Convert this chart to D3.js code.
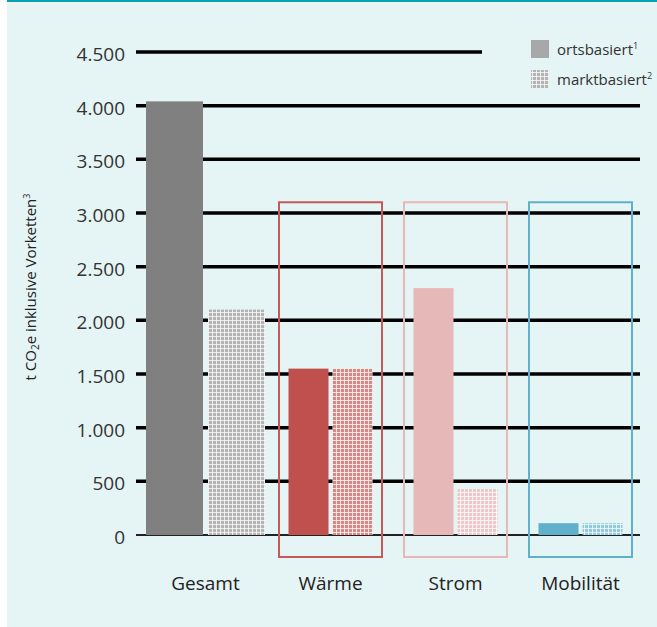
<!DOCTYPE html>
<html><head><meta charset="utf-8">
<script src="https://cdn.jsdelivr.net/npm/d3@7"></script>
<style>
html,body{margin:0;padding:0;background:#fff;}
svg{display:block;font-family:"Open Sans",sans-serif;}
</style></head>
<body>
<svg id="c" width="657" height="627"></svg>
<script>
const categories = ["Gesamt","Wärme","Strom","Mobilität"];
const ortsbasiert = [4040, 1550, 2300, 110];
const marktbasiert = [2100, 1550, 430, 110];
const yTicks = [0,500,1000,1500,2000,2500,3000,3500,4000,4500];
const yTickLabels = ["0","500","1.000","1.500","2.000","2.500","3.000","3.500","4.000","4.500"];
const seriesNames = ["ortsbasiert","marktbasiert"];
const legendSup = ["1","2"];
const colorsSolid = ["#808080","#c0504d","#e6b8b7","#5eb0cb"];
const colorsPattern = ["#b4b4b4","#d88784","#efc9c9","#8fcade"];
const boxColors = [null,"#c55a58","#e8b8b8","#5eb0cb"];
const boxTop = 3100;

const svg = d3.select("#c");
const defs = svg.append("defs");
const g0 = defs.append("linearGradient").attr("id","topg").attr("x1",0).attr("x2",0).attr("y1",0).attr("y2",1);
g0.append("stop").attr("offset",0).attr("stop-color","#f4f4f4");
g0.append("stop").attr("offset",1).attr("stop-color","#e6f4f4");
svg.append("rect").attr("x",7).attr("y",0).attr("width",650).attr("height",627).attr("fill","#e5f4f4");
svg.append("rect").attr("x",7).attr("y",1).attr("width",650).attr("height",6).attr("fill","url(#topg)");
svg.append("rect").attr("x",7).attr("y",0).attr("width",650).attr("height",2).attr("fill","#00a3b4");

colorsPattern.forEach((c,i)=>{
  const p = defs.append("pattern").attr("id","pat"+i).attr("width",4).attr("height",4).attr("patternUnits","userSpaceOnUse");
  p.append("rect").attr("width",4).attr("height",4).attr("fill",c);
  p.append("rect").attr("x",0).attr("y",0).attr("width",4).attr("height",1).attr("fill","#ffffff").attr("opacity",0.75);
  p.append("rect").attr("x",0).attr("y",0).attr("width",1).attr("height",4).attr("fill","#ffffff").attr("opacity",0.75);
});

const y = d3.scaleLinear().domain([0,4500]).range([535,52]);
const x = d3.scaleBand().domain(categories).range([143,643]).padding(0);

yTicks.forEach((t,i)=>{
  const last = t===4500;
  svg.append("line").attr("x1",136).attr("x2",last?482:640)
    .attr("y1",y(t)).attr("y2",y(t))
    .attr("stroke", t===0?"#222":"#000").attr("stroke-width", t===0?2:3.5);
});

const axis = d3.axisLeft(y).tickValues(yTicks).tickFormat((d,i)=>yTickLabels[i]).tickSize(0).tickPadding(0);
const ag = svg.append("g").attr("transform","translate(125,2)").call(axis);
ag.select(".domain").remove();
ag.selectAll("text").attr("font-size",19).attr("fill","#333").attr("font-family","'Open Sans',sans-serif").attr("dy","0.34em");

categories.forEach((c,i)=>{
  if(!boxColors[i]) return;
  const cx = x(c)+x.bandwidth()/2;
  svg.append("rect").attr("x",cx-51.5).attr("y",y(boxTop)).attr("width",103).attr("height",557-y(boxTop))
    .attr("fill","none").attr("stroke",boxColors[i]).attr("stroke-width",2);
});

categories.forEach((c,i)=>{
  const cx = x(c)+x.bandwidth()/2;
  const w = i===0?57:40;
  const gap = i===0?5:4;
  svg.append("rect").attr("x",cx-gap/2-w).attr("y",y(ortsbasiert[i])).attr("width",w).attr("height",y(0)-y(ortsbasiert[i]))
    .attr("fill",colorsSolid[i]);
  svg.append("rect").attr("x",cx+gap/2).attr("y",y(marktbasiert[i])).attr("width",w).attr("height",y(0)-y(marktbasiert[i]))
    .attr("fill","url(#pat"+i+")");
  svg.append("text").attr("x",cx).attr("y",590).attr("text-anchor","middle")
    .attr("font-size",19).attr("fill","#222").text(c);
});

const yt = svg.append("text").attr("transform","translate(36,287) rotate(-90)").attr("text-anchor","middle")
  .attr("font-size",15).attr("fill","#222");
yt.append("tspan").text("t CO");
yt.append("tspan").attr("font-size",10).attr("dy",3).text("2");
yt.append("tspan").attr("dy",-3).text("e inklusive Vorketten");
yt.append("tspan").attr("font-size",9).attr("dy",-6).text("3");

seriesNames.forEach((s,i)=>{
  const ly = 40 + i*30;
  svg.append("rect").attr("x",531).attr("y",ly).attr("width",18).attr("height",18)
    .attr("fill", i===0 ? "#a8a8a8" : "url(#pat0)");
  const t = svg.append("text").attr("x",557).attr("y",ly+15).attr("font-size",15).attr("fill","#333");
  t.append("tspan").text(s);
  t.append("tspan").attr("font-size",9).attr("dy",-6).text(legendSup[i]);
});
</script>
</body></html>
